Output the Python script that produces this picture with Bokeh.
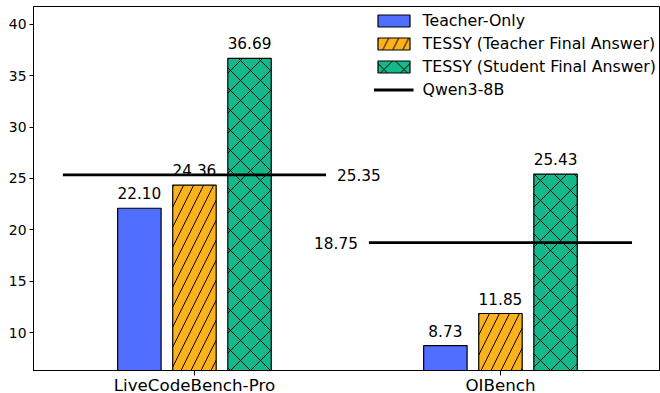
import numpy as np
from bokeh.plotting import figure
from bokeh.models import ColumnDataSource, Range1d, FixedTicker, SingleIntervalTicker
from bokeh.core.properties import value
from bokeh.embed import file_html
from bokeh.resources import INLINE

# ---- data ----
benchmarks = ["LiveCodeBench-Pro", "OIBench"]
teacher_only = [22.10, 8.73]
tessy_teacher = [24.36, 11.85]
tessy_student = [36.69, 25.43]
qwen3_8b = [25.35, 18.75]
series_names = ["Teacher-Only", "TESSY (Teacher Final Answer)", "TESSY (Student Final Answer)"]
baseline_name = "Qwen3-8B"

FONT = "DejaVu Sans"
idx = np.arange(len(benchmarks))

p = figure(width=660, height=400, output_backend="svg", toolbar_location=None,
           x_range=Range1d(-0.526, 1.523), y_range=Range1d(6.30, 41.75),
           min_border_left=33, min_border_right=0, min_border_top=6, min_border_bottom=30)
p.styles = {"margin-bottom": "-7px"}

colors = ["#506eff", "#fcb21c", "#14b88a"]
offsets = [-0.18, 0.0, 0.18]
hatches = [None, "right_diagonal_line", "diagonal_cross"]
bar_w = 0.142

for vals, name, c, off, h in zip([teacher_only, tessy_teacher, tessy_student],
                                 series_names, colors, offsets, hatches):
    src = ColumnDataSource(dict(x=idx + off, top=vals))
    kw = dict(hatch_pattern=h, hatch_color="black", hatch_weight=1, hatch_scale=20) if h else {}
    p.vbar(x="x", top="top", bottom=0, width=bar_w, source=src, fill_color=c,
           line_color="black", line_width=1.2, legend_label=name, **kw)

half = 0.43
seg = ColumnDataSource(dict(x0=idx - half, x1=idx + half, y=qwen3_8b))
p.segment(x0="x0", y0="y", x1="x1", y1="y", source=seg, line_color="black",
          line_width=2.8, legend_label=baseline_name)

for vals, off in zip([teacher_only, tessy_teacher, tessy_student], offsets):
    src = ColumnDataSource(dict(x=idx + off, top=vals, label=[f"{v:.2f}" for v in vals]))
    p.text(x="x", y="top", text="label", source=src, text_align="center",
           text_baseline="bottom", y_offset=-9, text_font=value(FONT),
           text_font_size="15.3px", text_color="black")

p.text(x=[idx[0] + half], y=[qwen3_8b[0]], text=[f"{qwen3_8b[0]:.2f}"], text_align="left",
       text_baseline="middle", x_offset=11, text_font=value(FONT), text_font_size="15.3px",
       text_color="black")
p.text(x=[idx[1] - half], y=[qwen3_8b[1]], text=[f"{qwen3_8b[1]:.2f}"], text_align="right",
       text_baseline="middle", x_offset=-11, text_font=value(FONT), text_font_size="15.3px",
       text_color="black")

p.xgrid.visible = False
p.ygrid.visible = False
p.outline_line_color = "black"
p.outline_line_width = 1

p.xaxis.ticker = FixedTicker(ticks=[float(i) for i in idx])
p.xaxis.major_label_overrides = {int(i): b for i, b in enumerate(benchmarks)}
p.xaxis.major_label_text_font = FONT
p.xaxis.major_label_text_font_size = "16.7px"
p.xaxis.major_label_standoff = -1
p.xaxis.major_tick_out = 5
p.xaxis.major_tick_in = 0
p.xaxis.minor_tick_line_color = None

p.yaxis.ticker = SingleIntervalTicker(interval=5, num_minor_ticks=0)
p.yaxis.major_label_text_font = FONT
p.yaxis.major_label_text_font_size = "13.9px"
p.yaxis.major_label_standoff = 3
p.yaxis.major_tick_out = 4
p.yaxis.major_tick_in = 0
p.yaxis.minor_tick_line_color = None

for ax in (p.xaxis, p.yaxis):
    ax.axis_line_color = "black"
    ax.major_tick_line_color = "black"
    ax.major_label_text_color = "black"

lg = p.legend[0]
lg.location = "top_right"
lg.margin = 0
lg.padding = 4
lg.spacing = 3
lg.glyph_width = 40
lg.glyph_height = 15
lg.label_height = 20
lg.label_standoff = 9
lg.label_text_font = FONT
lg.label_text_font_size = "15.8px"
lg.label_text_color = "black"
lg.background_fill_alpha = 0
lg.border_line_alpha = 0

open("out.html", "w").write(file_html(p, INLINE))
